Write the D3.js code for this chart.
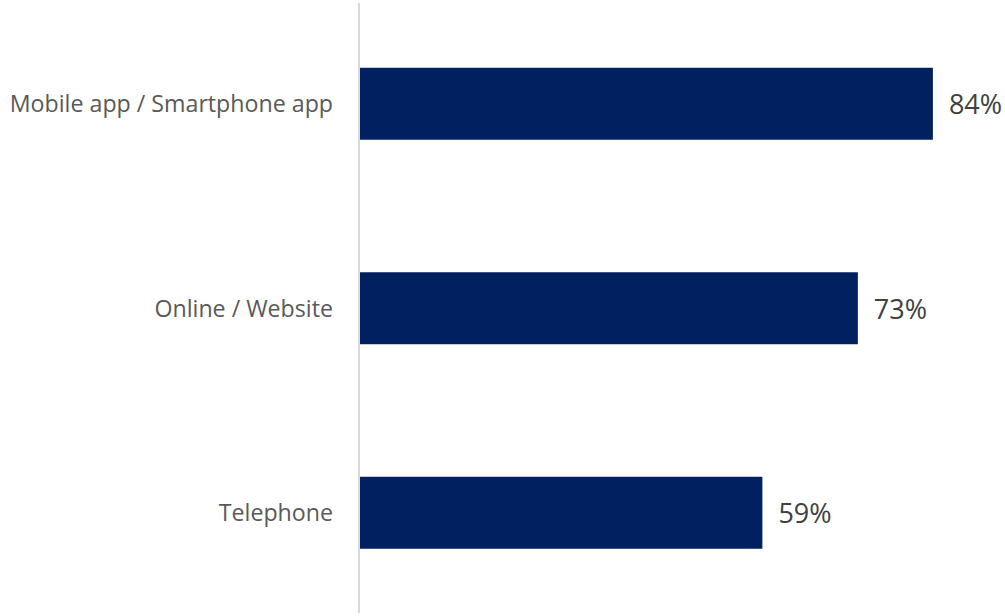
<!DOCTYPE html>
<html>
<head>
<meta charset="utf-8">
<script src="https://cdn.jsdelivr.net/npm/d3@7"></script>
<style>
  html, body { margin: 0; padding: 0; background: #fff; }
  svg { display: block; }
</style>
</head>
<body>
<div id="chart"></div>
<script>
const categories = ['Mobile app / Smartphone app', 'Online / Website', 'Telephone'];
const values = [84, 73, 59];
const valueLabels = ['84%', '73%', '59%'];

const width = 1005, height = 616;
const axisX = 359;

const svg = d3.select('#chart').append('svg')
  .attr('width', width)
  .attr('height', height);

const x = d3.scaleLinear().domain([0, 100]).range([axisX + 1, axisX + 1 + 682]);
const y = d3.scaleBand()
  .domain(categories)
  .range([1.5, 615])
  .paddingInner(0.648)
  .paddingOuter(0.324);

// bars
svg.selectAll('.bar')
  .data(categories)
  .enter()
  .append('rect')
  .classed('bar', true)
  .attr('x', x(0))
  .attr('y', d => y(d))
  .attr('width', (d, i) => x(values[i]) - x(0))
  .attr('height', y.bandwidth())
  .attr('fill', '#002060');

// vertical axis line
svg.append('line')
  .attr('x1', axisX).attr('x2', axisX)
  .attr('y1', 3).attr('y2', 613)
  .attr('stroke', '#d9d9d9')
  .attr('stroke-width', 2);

// category labels
svg.selectAll('.cat')
  .data(categories)
  .enter()
  .append('text')
  .classed('cat', true)
  .attr('x', axisX - 26)
  .attr('y', d => y(d) + y.bandwidth() / 2)
  .attr('dy', '0.36em')
  .attr('text-anchor', 'end')
  .attr('font-family', 'Open Sans, sans-serif')
  .attr('font-size', 23.2)
  .attr('fill', '#595959')
  .text(d => d);

// value labels
svg.selectAll('.val')
  .data(categories)
  .enter()
  .append('text')
  .classed('val', true)
  .attr('x', (d, i) => x(values[i]) + 16)
  .attr('y', d => y(d) + y.bandwidth() / 2)
  .attr('dy', '0.38em')
  .attr('font-family', 'Open Sans, sans-serif')
  .attr('font-size', 27)
  .attr('fill', '#404040')
  .text((d, i) => valueLabels[i]);
</script>
</body>
</html>
